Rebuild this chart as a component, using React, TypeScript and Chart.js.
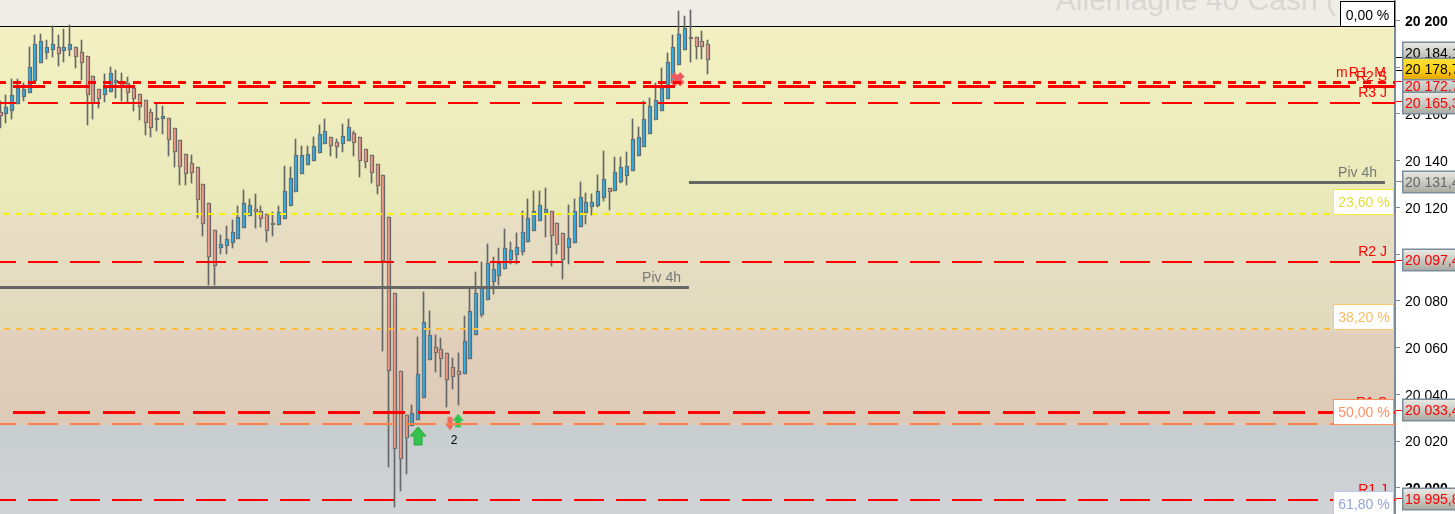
import React, { useEffect, useRef } from "react";
import { Chart, registerables } from "chart.js";

Chart.register(...registerables);

const FONT = '"Liberation Sans", Arial, sans-serif';

const opens = [20160.8,20159.9,20161.2,20164.2,20167.4,20168.9,20174.0,20181.7,20186.0,20187.3,20188.6,20186.9,20187.3,20188.6,20186.4,20184.7,20176.2,20170.6,20168.0,20169.3,20173.2,20173.2,20173.2,20171.0,20168.5,20165.9,20160.8,20158.2,20157.8,20158.2,20153.9,20148.8,20142.8,20139.0,20137.3,20130.0,20121.9,20110.3,20102.6,20103.5,20104.8,20106.5,20111.2,20116.3,20119.3,20118.4,20117.2,20113.3,20112.4,20115.0,20120.6,20126.6,20134.3,20138.1,20139.8,20143.2,20147.1,20150.1,20148.0,20147.1,20148.4,20151.8,20150.1,20144.9,20142.4,20138.5,20133.8,20115.9,20083.4,20050.0,20031.2,20026.5,20029.0,20038.4,20054.7,20060.3,20059.4,20057.7,20051.7,20050.0,20048.7,20055.1,20065.4,20074.0,20080.4,20088.1,20090.6,20093.6,20097.5,20099.6,20100.9,20105.2,20109.9,20114.2,20117.6,20118.4,20113.3,20109.0,20102.6,20104.8,20111.6,20117.6,20120.1,20120.6,20124.0,20128.3,20127.0,20130.8,20133.4,20135.5,20142.0,20145.8,20151.4,20157.4,20161.2,20166.3,20174.0,20180.9,20187.3,20192.9,20192.9,20191.1,20189.9];
const closes = [20159.1,20162.9,20168.0,20171.0,20170.6,20180.0,20189.9,20191.1,20188.6,20189.9,20185.6,20188.6,20189.9,20184.3,20181.7,20168.0,20164.6,20166.3,20171.0,20177.5,20174.5,20171.9,20168.9,20166.3,20162.9,20156.1,20153.9,20157.4,20159.1,20148.8,20143.7,20137.3,20134.3,20134.7,20123.1,20112.9,20098.8,20094.9,20104.3,20106.4,20109.4,20115.9,20121.9,20121.0,20118.0,20115.0,20109.9,20112.4,20118.0,20127.0,20132.6,20142.4,20142.4,20142.8,20146.2,20151.4,20152.7,20146.2,20145.8,20150.5,20154.4,20147.5,20139.8,20139.4,20134.7,20129.1,20097.0,20050.0,20016.6,20012.4,20021.3,20032.0,20048.7,20071.0,20065.4,20057.7,20055.1,20046.1,20047.4,20048.3,20062.8,20075.7,20083.4,20085.5,20096.2,20093.6,20096.2,20102.6,20101.7,20103.0,20109.4,20115.4,20118.4,20121.0,20119.3,20107.7,20103.9,20097.5,20106.9,20118.4,20124.4,20122.3,20122.3,20127.0,20132.1,20126.6,20135.1,20137.3,20137.7,20149.2,20150.1,20157.8,20163.3,20165.9,20171.0,20182.2,20188.6,20194.1,20196.7,20192.0,20188.6,20188.6,20183.0];
const highs = [20165.5,20168.0,20174.9,20174.9,20173.2,20188.6,20193.7,20194.1,20191.6,20197.6,20193.7,20196.3,20198.0,20188.6,20191.6,20184.7,20176.2,20170.6,20177.0,20180.0,20178.7,20177.5,20175.7,20172.3,20168.5,20165.9,20162.1,20164.2,20163.3,20158.2,20153.9,20148.8,20142.8,20142.4,20137.3,20130.0,20121.9,20110.3,20108.2,20112.0,20114.6,20120.6,20127.4,20123.6,20125.7,20120.6,20117.2,20118.0,20120.6,20137.7,20137.3,20149.2,20146.2,20146.2,20150.1,20155.2,20157.8,20150.1,20149.2,20155.6,20157.8,20152.7,20150.1,20144.9,20142.4,20138.5,20133.8,20115.9,20083.4,20050.0,20031.2,20035.4,20064.5,20083.8,20075.7,20065.4,20064.1,20057.7,20055.6,20057.7,20073.5,20085.1,20092.3,20096.6,20104.3,20098.8,20102.6,20110.7,20105.2,20109.0,20118.4,20123.6,20127.0,20127.0,20128.3,20118.4,20113.3,20109.0,20121.0,20123.6,20130.8,20126.1,20125.7,20133.8,20144.1,20128.3,20141.5,20141.5,20143.7,20157.8,20154.4,20165.5,20166.8,20173.2,20179.6,20186.0,20193.7,20204.0,20201.8,20204.4,20192.9,20195.4,20191.6];
const lows = [20153.9,20156.1,20157.8,20164.2,20165.5,20168.9,20174.0,20181.7,20183.4,20184.3,20180.4,20182.2,20184.7,20179.6,20174.5,20155.2,20157.8,20162.5,20165.1,20169.3,20166.8,20165.5,20164.6,20161.2,20157.4,20150.9,20150.1,20152.6,20151.4,20142.0,20137.3,20129.6,20129.6,20130.4,20115.4,20107.7,20086.8,20086.8,20100.0,20100.0,20102.6,20106.5,20111.2,20116.3,20111.2,20111.6,20105.2,20107.7,20112.4,20115.0,20120.6,20126.6,20134.3,20138.1,20139.8,20143.2,20147.1,20142.0,20141.1,20143.7,20148.4,20142.0,20133.0,20136.8,20130.4,20125.7,20058.6,20008.9,19991.8,19998.7,20006.0,20026.5,20029.0,20038.4,20054.7,20049.6,20047.4,20034.6,20042.3,20035.4,20048.7,20055.1,20065.4,20073.1,20080.4,20082.9,20086.8,20093.6,20095.8,20095.8,20099.6,20105.2,20109.9,20114.2,20107.3,20094.9,20100.0,20089.3,20095.8,20104.8,20111.6,20112.9,20116.7,20120.1,20122.7,20118.9,20127.0,20130.4,20129.6,20135.5,20142.0,20145.8,20151.4,20157.4,20161.2,20166.3,20174.0,20180.9,20187.3,20182.2,20183.4,20183.4,20177.0];

const tickValues = [20000, 20020, 20040, 20060, 20080, 20100, 20120, 20140, 20160, 20180, 20200];

type Level = {
  name: string;
  price: number;
  from: number | null;
  to: number | null;
  color: string;
  width: number;
  dash: number[];
  dashOffset: number;
  label?: string;
  labelColor?: string;
};

const levels: Level[] = [
  { name: "mR1 M", price: 20173.39, from: null, to: null, color: "#ff0000", width: 3, dash: [8, 7], dashOffset: 2, label: "mR1 M" },
  { name: "R2 S", price: 20171.68, from: 2.155, to: null, color: "#ff0000", width: 3, dash: [32, 13], dashOffset: 0, label: "R2 S" },
  { name: "R3 J", price: 20164.62, from: null, to: null, color: "#ff0000", width: 2, dash: [30, 12], dashOffset: 14, label: "R3 J" },
  { name: "Piv 4h b", price: 20130.62, from: 118.7, to: 238.7, color: "#666666", width: 3, dash: [], dashOffset: 0, label: "Piv 4h", labelColor: "#777777" },
  { name: "23,60", price: 20117.15, from: null, to: null, color: "#f7f000", width: 2, dash: [6, 6], dashOffset: 8 },
  { name: "R2 J", price: 20096.62, from: null, to: null, color: "#ff0000", width: 2, dash: [30, 12], dashOffset: 14, label: "R2 J" },
  { name: "Piv 4h a", price: 20085.71, from: null, to: 118.7, color: "#666666", width: 3, dash: [], dashOffset: 0, label: "Piv 4h", labelColor: "#777777" },
  { name: "38,20", price: 20067.96, from: null, to: null, color: "#fdb93c", width: 2, dash: [6, 6], dashOffset: 8 },
  { name: "R1 S", price: 20032.25, from: 2.155, to: null, color: "#ff0000", width: 3, dash: [32, 13], dashOffset: 0, label: "R1 S" },
  { name: "50,00", price: 20027.33, from: null, to: null, color: "#ff8048", width: 2, dash: [30, 12], dashOffset: 14 },
  { name: "R1 J", price: 19994.82, from: null, to: null, color: "#ff0000", width: 2, dash: [30, 12], dashOffset: 14, label: "R1 J" },
];

const fibLabels = ["23,60 %", "38,20 %", "50,00 %", "61,80 %"];
const fibPrices = [20117.15, 20067.96, 20027.33, 19988.0];
const fibBorders = ["#f6ee30", "#fdc468", "#ff9060", "#b8c6f2"];
const fibTexts = ["#e4dc3a", "#f7bc62", "#ff9366", "#93a4d4"];

const badgeTexts = ["20 184,1", "20 172,7", "20 165,3", "20 131,4", "20 097,4", "20 033,4", "19 995,8", "20 178,7"];
const badgePrices = [20184.1, 20174.0, 20165.3, 20131.4, 20097.4, 20033.4, 19995.8, 20178.7];
const badgeNudges = [-4, 5, 2, 1, 0, 0, 1, -1];
const badgeColors = ["#000000", "#ff0000", "#ff0000", "#666666", "#ff0000", "#ff0000", "#ff0000", "#000000"];

const bandPrices = [20197.6, 20116.8, 20067.3, 20026.9, 19988.8];

const AXIS = "#7b8c9a";
const WICK = "#666666";
const UP = "#30aeea";
const DOWN = "#f09a88";

const arrowUpBig = { index: 72, price: 20022.2 };
const arrowUpSmall = { index: 78.9, price: 20028.8 };
const arrowDownSmall = { index: 77.5, price: 20027.5 };
const crossMark = { index: 116.7, price: 20174.7 };
const countLabel = { index: 78.2, price: 20020.2, text: "2" };

function arrow(ctx: CanvasRenderingContext2D, cx: number, cy: number, w: number, h: number, dir: number, fill: string, stroke: string) {
  const hw = w / 2;
  const hh = h / 2;
  const sw = w * 0.25;
  ctx.save();
  ctx.translate(cx, cy);
  ctx.scale(1, dir);
  ctx.beginPath();
  ctx.moveTo(0, -hh);
  ctx.lineTo(hw, 0);
  ctx.lineTo(sw, 0);
  ctx.lineTo(sw, hh);
  ctx.lineTo(-sw, hh);
  ctx.lineTo(-sw, 0);
  ctx.lineTo(-hw, 0);
  ctx.closePath();
  ctx.fillStyle = fill;
  ctx.fill();
  ctx.lineWidth = 1;
  ctx.strokeStyle = stroke;
  ctx.stroke();
  ctx.restore();
}

const tradingPlugin = {
  id: "trading",
  afterDatasetsUpdate(chart: any) {
    chart.data.datasets.forEach((ds: any, i: number) => {
      const meta = chart.getDatasetMeta(i);
      if (ds.label === "wicks" || ds.label === "bodies") {
        meta.data.forEach((el: any) => {
          el.x = ds.label === "wicks" ? Math.round(el.x) - 0.5 : Math.round(el.x);
          el.y = Math.round(el.y);
          el.base = Math.round(el.base);
        });
      } else if (ds.type === "line") {
        meta.data.forEach((el: any) => {
          el.y = ds.borderWidth % 2 ? Math.floor(el.y) + 0.5 : Math.round(el.y);
        });
      }
    });
  },
  beforeDraw(chart: any) {
    const { ctx, chartArea, scales } = chart;
    const y = scales.y;
    const right = chartArea.right;
    ctx.save();
    ctx.fillStyle = "#ffffff";
    ctx.fillRect(0, 0, chart.width, chart.height);
    const stops = [
      ["#f3f1c2", "#e9e8b8"],
      ["#e7dec4", "#e2dabd"],
      ["#e2cfbc", "#dcc9b6"],
      ["#c8cdcf", "#d1d3d6"],
    ];
    const ys = bandPrices.map((p) => Math.round(y.getPixelForValue(p)));
    ctx.fillStyle = "#eeeee6";
    ctx.fillRect(0, 0, right, ys[0]);
    ctx.save();
    ctx.beginPath();
    ctx.rect(0, 0, right, ys[0]);
    ctx.clip();
    ctx.font = `30px ${FONT}`;
    ctx.fillStyle = "#d6d7d3";
    ctx.textAlign = "right";
    ctx.textBaseline = "alphabetic";
    ctx.fillText("Allemagne 40 Cash (", 1336, 10);
    ctx.restore();
    stops.forEach((s, i) => {
      const g = ctx.createLinearGradient(0, ys[i], 0, ys[i + 1]);
      g.addColorStop(0, s[0]);
      g.addColorStop(1, s[1]);
      ctx.fillStyle = g;
      ctx.fillRect(0, ys[i], right, ys[i + 1] - ys[i]);
    });
    ctx.fillStyle = "#000000";
    ctx.fillRect(0, ys[0], 1340, 1);
    ctx.restore();
  },
  afterDatasetDraw(chart: any, args: any) {
    if (chart.data.datasets[args.index].label !== "bodies") return;
    const { ctx, scales } = chart;
    const px = (m: { index: number }) => scales.x.getPixelForValue(m.index);
    const py = (m: { price: number }) => scales.y.getPixelForValue(m.price);
    arrow(ctx, px(arrowDownSmall), py(arrowDownSmall), 9, 13, -1, "#f2625a", "#e98a80");
    arrow(ctx, px(arrowUpSmall), py(arrowUpSmall), 10, 13, 1, "#35c24c", "#4cc868");
    arrow(ctx, px(arrowUpBig), py(arrowUpBig), 16, 18, 1, "#35c24c", "#2aa840");
    ctx.save();
    ctx.translate(px(crossMark), py(crossMark));
    ctx.strokeStyle = "#ef5a60";
    ctx.lineWidth = 6;
    ctx.beginPath();
    ctx.moveTo(-5, -5);
    ctx.lineTo(5, 5);
    ctx.moveTo(5, -5);
    ctx.lineTo(-5, 5);
    ctx.stroke();
    ctx.restore();
    ctx.save();
    ctx.font = `12px ${FONT}`;
    ctx.fillStyle = "#000000";
    ctx.textAlign = "center";
    ctx.textBaseline = "middle";
    ctx.fillText(countLabel.text, px(countLabel), py(countLabel));
    ctx.restore();
  },
  afterDraw(chart: any) {
    const { ctx, scales, chartArea } = chart;
    const y = scales.y;
    const x = scales.x;
    ctx.save();
    ctx.font = `14px ${FONT}`;
    ctx.textBaseline = "middle";

    levels.forEach((l) => {
      if (!l.label) return;
      const py = y.getPixelForValue(l.price);
      ctx.fillStyle = l.labelColor || "#ff0000";
      ctx.textAlign = "right";
      if (l.label === "Piv 4h") {
        const end = l.to === null ? chartArea.right : x.getPixelForValue(l.to);
        ctx.fillText(l.label, end - 8, py - 9.5);
      } else {
        (ctx as any).letterSpacing = l.label === "mR1 M" ? "1.2px" : "0px";
        ctx.fillText(l.label, 1387, py - 9.5);
        (ctx as any).letterSpacing = "0px";
      }
    });

    fibLabels.forEach((t, i) => {
      const bottom = Math.round(y.getPixelForValue(fibPrices[i]));
      const top = bottom - 25;
      ctx.fillStyle = "#ffffff";
      ctx.fillRect(1333, top, 60, 25);
      ctx.strokeStyle = fibBorders[i];
      ctx.lineWidth = 1;
      ctx.strokeRect(1333.5, top + 0.5, 60, 25);
      ctx.fillStyle = fibTexts[i];
      ctx.textAlign = "center";
      ctx.fillText(t, 1364, top + 14);
    });

    ctx.fillStyle = "#ffffff";
    ctx.fillRect(1340, 1, 54, 25);
    ctx.strokeStyle = "#000000";
    ctx.lineWidth = 1;
    ctx.strokeRect(1340.5, 1.5, 54, 25);
    ctx.fillStyle = "#000000";
    ctx.textAlign = "center";
    ctx.fillText("0,00 %", 1367.5, 16);

    badgeTexts.forEach((t, i) => {
      const tickY = Math.round(y.getPixelForValue(badgePrices[i]));
      const isCurrent = i === badgeTexts.length - 1;
      ctx.fillStyle = badgeColors[i] === "#666666" ? AXIS : badgeColors[i];
      ctx.fillRect(1396, tickY, 6, 1);
      const cy = tickY + badgeNudges[i];
      const g = ctx.createLinearGradient(0, cy - 11, 0, cy + 11);
      if (isCurrent) {
        g.addColorStop(0, "#ffe23c");
        g.addColorStop(0.6, "#fbcc10");
        g.addColorStop(1, "#e8a000");
      } else {
        g.addColorStop(0, "#ecece6");
        g.addColorStop(1, "#a8aaa2");
      }
      ctx.fillStyle = g;
      ctx.fillRect(1402, cy - 11, 70, 22);
      ctx.strokeStyle = AXIS;
      ctx.lineWidth = 1.5;
      ctx.strokeRect(1402.75, cy - 10.75, 70, 21.5);
      ctx.fillStyle = badgeColors[i];
      ctx.textAlign = "left";
      ctx.fillText(t, 1405, cy + 1);
    });
    ctx.restore();
  },
};

const xMin = -0.5 / 5.8;
const xMax = (1395 - 0.5) / 5.8;

export default function App() {
  const ref = useRef<HTMLCanvasElement | null>(null);

  useEffect(() => {
    document.body.style.margin = "0";
    const canvas = ref.current;
    if (!canvas) return;

    const wickData = highs.map((h, i) => ({ x: i, y: [lows[i], h] }));
    const bodyData = opens.map((o, i) => ({ x: i, y: [o, closes[i]] }));
    const bodyColors = opens.map((o, i) => (closes[i] > o ? UP : DOWN));

    const lineSets = levels.map((l) => ({
      type: "line" as const,
      label: l.name,
      data: [
        { x: l.from === null ? xMin : l.from, y: l.price },
        { x: l.to === null ? xMax : l.to, y: l.price },
      ],
      borderColor: l.color,
      borderWidth: l.width,
      borderDash: l.dash,
      borderDashOffset: l.dashOffset,
      pointRadius: 0,
      tension: 0,
      fill: false,
      order: 1,
    }));

    const chart = new Chart(canvas, {
      type: "bar",
      data: {
        datasets: [
          {
            type: "bar",
            label: "wicks",
            data: wickData,
            backgroundColor: WICK,
            barThickness: 1,
            grouped: false,
            order: 3,
          },
          {
            type: "bar",
            label: "bodies",
            data: bodyData,
            backgroundColor: bodyColors,
            borderColor: WICK,
            borderWidth: { left: 1, right: 1.6, top: 1, bottom: 1 },
            borderSkipped: false,
            barThickness: 4,
            grouped: false,
            order: 2,
          },
          ...lineSets,
        ] as any,
      },
      options: {
        responsive: false,
        animation: false,
        maintainAspectRatio: false,
        layout: { padding: 0 },
        plugins: { legend: { display: false }, tooltip: { enabled: false }, title: { display: false } },
        scales: {
          x: { type: "linear", display: false, min: xMin, max: xMax, offset: false },
          y: {
            position: "right",
            min: 19988.835,
            max: 20208.683,
            afterBuildTicks: (s: any) => {
              s.ticks = tickValues.map((value) => ({ value }));
            },
            afterFit: (s: any) => {
              s.width = 60;
              s.paddingTop = 0;
              s.paddingBottom = 0;
            },
            border: { display: true, color: AXIS, width: 2 },
            grid: { drawOnChartArea: false, drawTicks: true, tickLength: 5, color: AXIS, tickWidth: 1 },
            ticks: {
              padding: 5,
              labelOffset: 1.5,
              crossAlign: "near",
              color: "#000000",
              autoSkip: false,
              font: (c: any) => ({
                family: FONT,
                size: 14,
                weight: c.tick && c.tick.value % 200 === 0 ? "bold" : "normal",
              }),
              callback: (v: any) => {
                const s = String(v);
                return s.slice(0, 2) + " " + s.slice(2);
              },
            },
          },
        },
      } as any,
      plugins: [tradingPlugin],
    });

    return () => chart.destroy();
  }, []);

  return (
    <canvas
      ref={ref}
      width={1455}
      height={514}
      style={{ position: "absolute", left: 0, top: 0, width: 1455, height: 514, display: "block" }}
    />
  );
}
